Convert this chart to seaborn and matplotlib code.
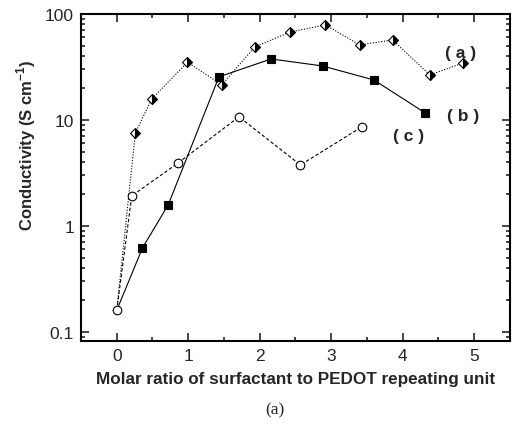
import numpy as np
import pandas as pd
import matplotlib
matplotlib.use("Agg")
import matplotlib.pyplot as plt
from matplotlib.ticker import FixedLocator, FixedFormatter, LogLocator, NullFormatter, MultipleLocator
import seaborn as sns

# Data
x_a = [0.0, 0.26, 0.49, 0.99, 1.47, 1.93, 2.43, 2.92, 3.40, 3.86, 4.38, 4.85]
y_a = [0.16, 7.5, 15.8, 35.0, 21.4, 48.8, 67.7, 78.8, 51.0, 56.9, 26.6, 34.5]
x_b = [0.0, 0.36, 0.72, 1.43, 2.16, 2.88, 3.60, 4.32]
y_b = [0.16, 0.62, 1.58, 25.5, 37.6, 32.3, 23.8, 11.6]
x_c = [0.0, 0.21, 0.86, 1.71, 2.57, 3.43]
y_c = [0.16, 1.92, 3.93, 10.7, 3.76, 8.6]
series_labels = ["( a )", "( b )", "( c )"]
label_pos_x = [4.6, 4.62, 3.86]
label_pos_y = [43.0, 10.9, 7.1]
ytick_vals = [0.1, 1, 10, 100]
ytick_labels = ["0.1", "1", "10", "100"]
xtick_vals = [0, 1, 2, 3, 4, 5]

sns.set_style("ticks")
plt.rcParams['font.family'] = ['Liberation Sans', 'DejaVu Sans']
plt.rcParams['mathtext.fontset'] = 'custom'
plt.rcParams['mathtext.bf'] = 'Liberation Sans:bold'
plt.rcParams['mathtext.rm'] = 'Liberation Sans'

fig = plt.figure(figsize=(5.16, 4.27), dpi=100)
ax = fig.add_axes([0.157, 0.199, 0.831, 0.766])

common = dict(color='black', markeredgecolor='black', markeredgewidth=0.8,
              estimator=None, sort=False, ax=ax, legend=False)

sns.lineplot(x=x_a, y=y_a, marker='D', markersize=5.5, fillstyle='right',
             markerfacecolor='black', markerfacecoloralt='white',
             linestyle=(0, (1, 1.5)), linewidth=0.8,
             markevery=list(range(1, len(x_a))), **common)
sns.lineplot(x=x_b, y=y_b, marker='s', markersize=5.8,
             markerfacecolor='black', linestyle='-', linewidth=0.8,
             markevery=list(range(1, len(x_b))), **common)
sns.lineplot(x=x_c, y=y_c, marker='o', markersize=6.2,
             markerfacecolor='white', linestyle=(0, (3, 2)), linewidth=0.8,
             **common)

for lab, lx, ly in zip(series_labels, label_pos_x, label_pos_y):
    ax.text(lx, ly, lab, fontsize=12.5, fontweight='bold', ha='left', va='center')

ax.set_yscale('log')
ax.set_xlim(-0.5, 5.5)
ax.set_ylim(0.082, 100)
ax.yaxis.set_major_locator(FixedLocator(ytick_vals))
ax.yaxis.set_major_formatter(FixedFormatter(ytick_labels))
ax.yaxis.set_minor_locator(LogLocator(base=10, subs=np.arange(2, 10)))
ax.yaxis.set_minor_formatter(NullFormatter())
ax.xaxis.set_major_locator(FixedLocator(xtick_vals))
ax.xaxis.set_minor_locator(MultipleLocator(0.5))

ax.tick_params(which='both', direction='in', top=True, right=True, labelsize=12.5, width=1.2)
ax.tick_params(which='major', length=6, pad=5)
ax.tick_params(which='minor', length=3)
for s in ax.spines.values():
    s.set_linewidth(1.5)
    s.set_color('black')

ax.set_xlabel("Molar ratio of surfactant to PEDOT repeating unit", fontsize=12.3, fontweight='bold', labelpad=6)
ax.set_ylabel(r"Conductivity (S cm$^{\mathbf{-1}}$)", fontsize=12.0, fontweight='bold')
ax.yaxis.set_label_coords(-0.10, 0.60)

fig.text(0.533, 0.04, "(a)", fontsize=12.5, family=['Liberation Serif'], ha='center', va='center')

fig.savefig("out.png", dpi=100)
